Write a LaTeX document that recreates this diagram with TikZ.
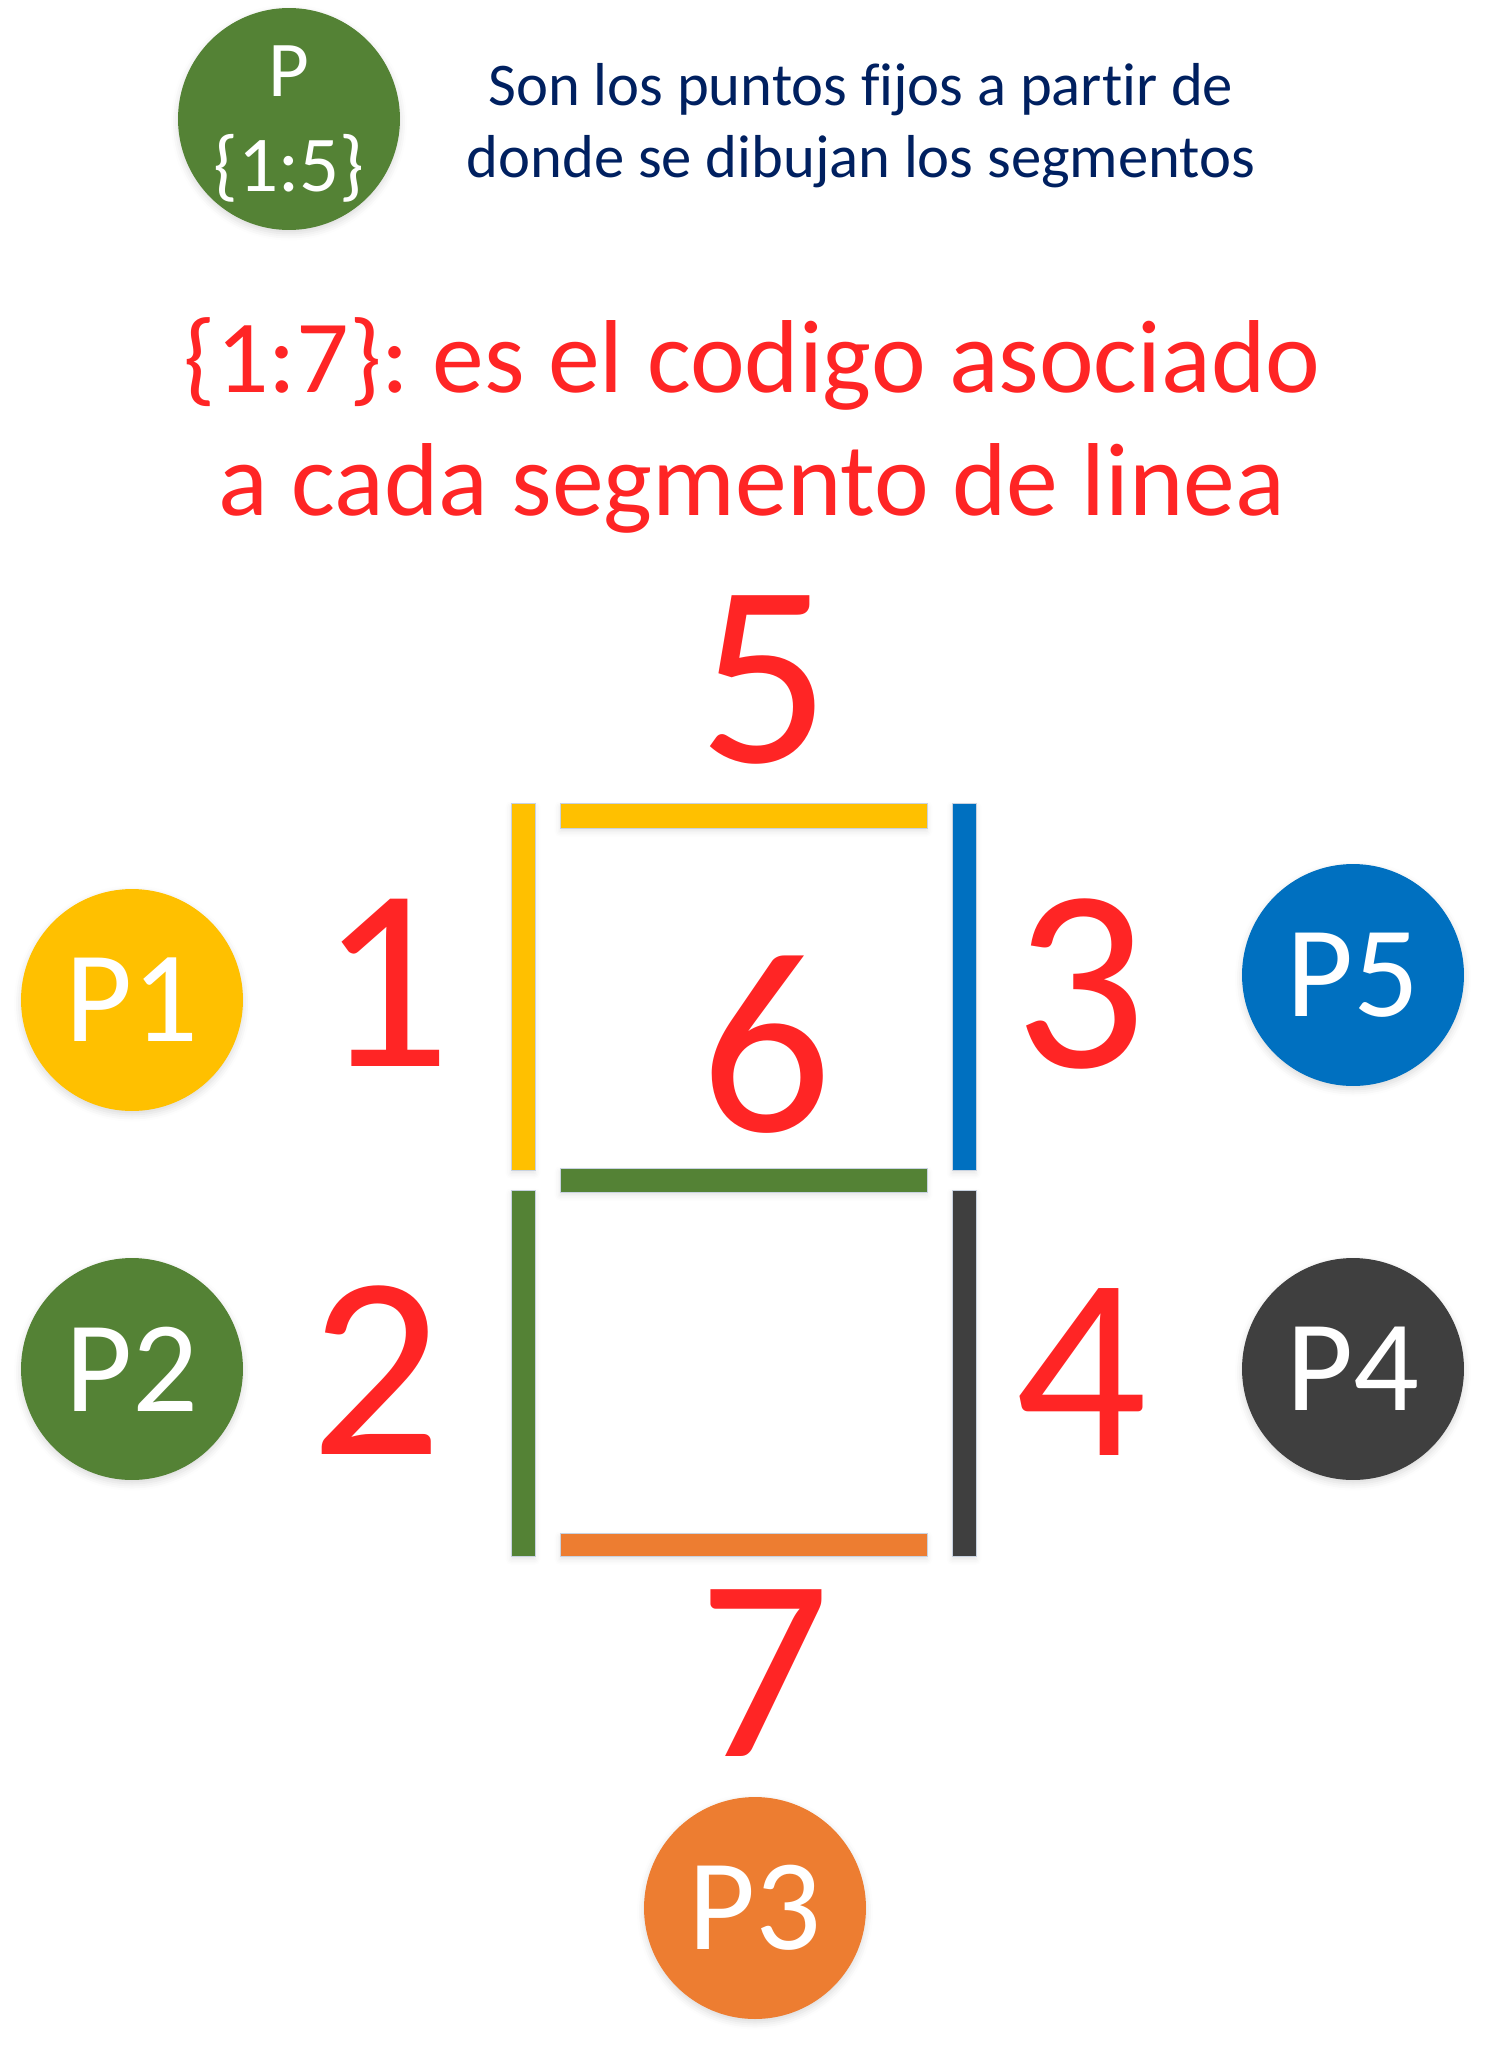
\documentclass[tikz,border=0pt]{standalone}
\usepackage{fontspec}
\setmainfont{Carlito}[Ligatures=NoCommon]
\usetikzlibrary{positioning,shadows.blur}
\definecolor{segyellow}{HTML}{FFC000}
\definecolor{segblue}{HTML}{0070C0}
\definecolor{seggreen}{HTML}{548235}
\definecolor{seggray}{HTML}{3F3F3F}
\definecolor{segorange}{HTML}{ED7D31}
\definecolor{codered}{HTML}{FF2525}
\definecolor{notenavy}{HTML}{002060}
\definecolor{bordeseg}{HTML}{C8D2E0}
\frenchspacing
\begin{document}
\begin{tikzpicture}[x=0.02cm,y=-0.02cm,
    punto/.style={circle,minimum size=4.44cm,inner sep=0pt,text=white,
                  font=\fontsize{74}{80}\selectfont,
                  blur shadow={shadow xshift=0pt,shadow yshift=-2pt,shadow opacity=15,shadow blur radius=4pt}},
    digito/.style={text=codered,inner sep=0pt,font=\fontsize{148}{160}\selectfont},
    barra/.style={draw=bordeseg,line width=0.5pt,
                  blur shadow={shadow xshift=0pt,shadow yshift=-2pt,shadow opacity=10,shadow blur radius=3pt}},
    ]
    \useasboundingbox (0,0) rectangle (1487,2048);

    % leyenda
    \node[punto,fill=seggreen,align=center,text depth=0pt,font=\fontsize{45}{54}\selectfont] (P) at (289,119) {P\\\{1:5\}};
    \node[text=notenavy,align=center,font=\fontsize{34.5}{41}\selectfont] (nota) at (861,126)
         {Son los puntos fijos a partir de\\donde se dibujan los segmentos};
    \node[text=codered,align=center,font=\fontsize{59}{70}\selectfont] (codigo) at (752,425)
         {\{1:7\}: es el codigo asociado\\a cada segmento de linea};

    % segmentos
    \filldraw[fill=segyellow,barra] (560,803) rectangle (927,828);
    \filldraw[fill=segyellow,barra] (511,803) rectangle (535,1170);
    \filldraw[fill=segblue,barra]   (952,803) rectangle (976,1170);
    \filldraw[fill=seggreen,barra]  (560,1168) rectangle (927,1192);
    \filldraw[fill=seggreen,barra]  (511,1190) rectangle (535,1556);
    \filldraw[fill=seggray,barra]   (952,1190) rectangle (976,1556);
    \filldraw[fill=segorange,barra] (560,1533) rectangle (927,1556);

    \node[digito] (d5) at (764,680) {5};
    \node[digito] (d1) at (385,983) {1};
    \node[digito] (d6) at (766,1045) {6};
    \node[digito] (d3) at (1080,984) {3};
    \node[digito] (d2) at (376,1370) {2};
    \node[digito] (d4) at (1081,1372) {4};
    \node[digito] (d7) at (764,1673) {7};

    % puntos fijos
    \node[punto,fill=segyellow] (P1) at (132,1000) {P1};
    \node[punto,fill=seggreen]  (P2) at (132,1369) {P2};
    \node[punto,fill=segorange] (P3) at (755,1908) {P3};
    \node[punto,fill=seggray]   (P4) at (1353,1369) {P4};
    \node[punto,fill=segblue]   (P5) at (1353,975) {P5};
\end{tikzpicture}
\end{document}
